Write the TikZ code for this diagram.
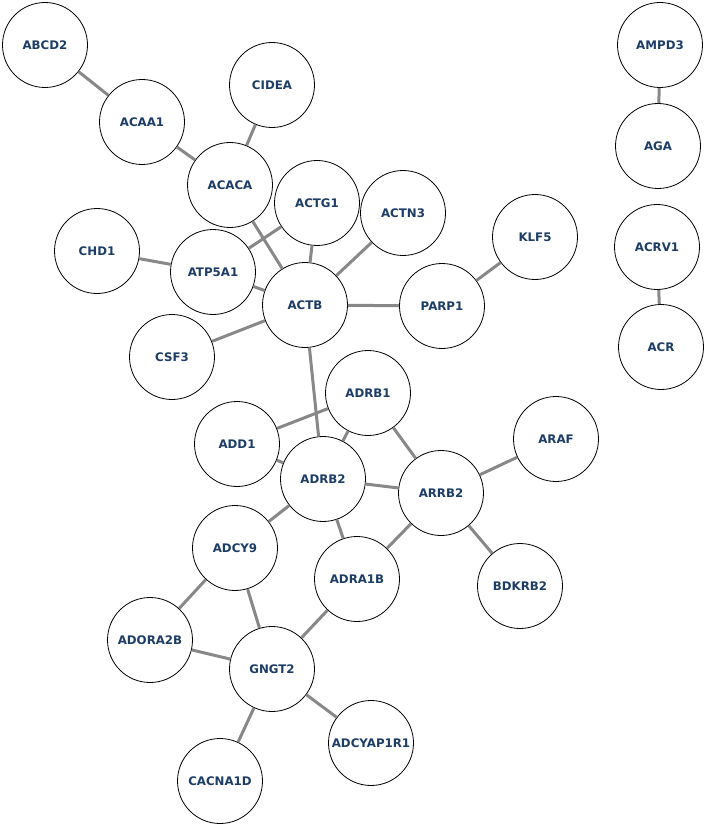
\documentclass[tikz,border=0pt]{standalone}
\usepackage{fontspec}
\setmainfont{DejaVu Sans}
\usepackage{xcolor}
\usepackage{tikz}
\definecolor{genetext}{HTML}{1D3D66}
\definecolor{edgegray}{HTML}{888888}

\begin{document}
\begin{tikzpicture}[
  x=1pt, y=-1pt,
  gene/.style={circle, draw, line width=0.8pt, fill=white, minimum size=85pt, inner sep=0pt,
    font=\fontsize{11.8}{14}\selectfont\bfseries, text=genetext},
  link/.style={draw=edgegray, line width=3pt},
]
\useasboundingbox (0,0) rectangle (708,826);

% Nodes
\node[gene] (ABCD2) at (45,45) {ABCD2};
\node[gene] (ACAA1) at (142,122) {ACAA1};
\node[gene] (CIDEA) at (272,85) {CIDEA};
\node[gene] (ACACA) at (230,185) {ACACA};
\node[gene] (ACTG1) at (317,203) {ACTG1};
\node[gene] (ACTN3) at (403,213) {ACTN3};
\node[gene] (KLF5) at (535,237) {KLF5};
\node[gene] (CHD1) at (97,251) {CHD1};
\node[gene] (ATP5A1) at (213,272) {ATP5A1};
\node[gene] (ACTB) at (305,305) {ACTB};
\node[gene] (PARP1) at (442,306) {PARP1};
\node[gene] (CSF3) at (172,357) {CSF3};
\node[gene] (ADRB1) at (368,393) {ADRB1};
\node[gene] (ARAF) at (556,439) {ARAF};
\node[gene] (ADD1) at (237,444) {ADD1};
\node[gene] (ADRB2) at (323,479) {ADRB2};
\node[gene] (ARRB2) at (441,493) {ARRB2};
\node[gene] (ADCY9) at (235,548) {ADCY9};
\node[gene] (ADRA1B) at (357,579) {ADRA1B};
\node[gene] (BDKRB2) at (520,586) {BDKRB2};
\node[gene] (ADORA2B) at (150,640) {ADORA2B};
\node[gene] (GNGT2) at (272,669) {GNGT2};
\node[gene] (ADCYAP1R1) at (371,743) {ADCYAP1R1};
\node[gene] (CACNA1D) at (220,781) {CACNA1D};
\node[gene] (AMPD3) at (660,45) {AMPD3};
\node[gene] (AGA) at (658,146) {AGA};
\node[gene] (ACRV1) at (657,247) {ACRV1};
\node[gene] (ACR) at (661,347) {ACR};

% Edges
\draw[link] (ABCD2) -- (ACAA1);
\draw[link] (ACAA1) -- (ACACA);
\draw[link] (CIDEA) -- (ACACA);
\draw[link] (ACACA) -- (ACTB);
\draw[link] (ACTG1) -- (ATP5A1);
\draw[link] (ACTG1) -- (ACTB);
\draw[link] (ACTN3) -- (ACTB);
\draw[link] (KLF5) -- (PARP1);
\draw[link] (CHD1) -- (ATP5A1);
\draw[link] (ATP5A1) -- (ACTB);
\draw[link] (ACTB) -- (PARP1);
\draw[link] (CSF3) -- (ACTB);
\draw[link] (ACTB) -- (ADRB2);
\draw[link] (ADD1) -- (ADRB1);
\draw[link] (ADD1) -- (ADRB2);
\draw[link] (ADRB1) -- (ADRB2);
\draw[link] (ADRB1) -- (ARRB2);
\draw[link] (ARAF) -- (ARRB2);
\draw[link] (ADRB2) -- (ARRB2);
\draw[link] (ADRB2) -- (ADCY9);
\draw[link] (ADRB2) -- (ADRA1B);
\draw[link] (ARRB2) -- (ADRA1B);
\draw[link] (ARRB2) -- (BDKRB2);
\draw[link] (ADCY9) -- (ADORA2B);
\draw[link] (ADCY9) -- (GNGT2);
\draw[link] (ADRA1B) -- (GNGT2);
\draw[link] (ADORA2B) -- (GNGT2);
\draw[link] (GNGT2) -- (ADCYAP1R1);
\draw[link] (GNGT2) -- (CACNA1D);
\draw[link] (AMPD3) -- (AGA);
\draw[link] (ACRV1) -- (ACR);
\end{tikzpicture}
\end{document}
